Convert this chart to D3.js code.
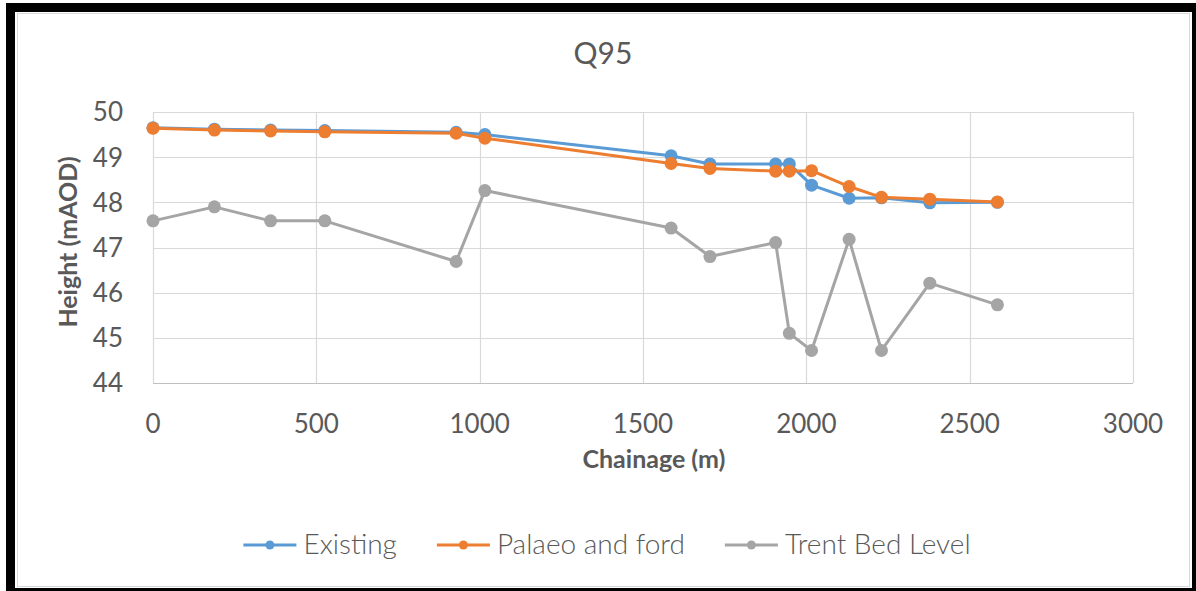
<!DOCTYPE html>
<html lang="en">
<head>
    <meta charset="utf-8" />
    <title>Q95</title>
    <script type="text/javascript" src="https://d3js.org/d3.v7.min.js"></script>
    <style>
        body { margin: 0; background: #fff; }
        svg text { font-family: Lato, "Open Sans", sans-serif; fill: #595959; }
    </style>
</head>
<body>
    <script type="text/javascript">

        var chainage = [0, 188, 360, 526, 928, 1016, 1586, 1705, 1906, 1948, 2016, 2131, 2230, 2378, 2585];
        var existing = [49.65, 49.62, 49.60, 49.59, 49.55, 49.50, 49.03, 48.85, 48.85, 48.85, 48.38, 48.09, 48.10, 47.99, 48.00];
        var palaeo = [49.64, 49.60, 49.58, 49.56, 49.53, 49.42, 48.86, 48.75, 48.69, 48.69, 48.70, 48.35, 48.11, 48.07, 48.01];
        var trent = [47.59, 47.90, 47.59, 47.59, 46.69, 48.26, 47.43, 46.80, 47.11, 45.10, 44.72, 47.18, 44.72, 46.21, 45.73];

        var seriesNames = ["Existing", "Palaeo and ford", "Trent Bed Level"];
        var seriesColors = ["#5B9BD5", "#ED7D31", "#A5A5A5"];
        var xTicks = [0, 500, 1000, 1500, 2000, 2500, 3000];
        var yTicks = [44, 45, 46, 47, 48, 49, 50];

        var w = 1196;
        var h = 591;

        var svg = d3.select("body")
            .append("svg")
            .attr("width", w)
            .attr("height", h);

        // chart area border
        svg.append("rect")
            .attr("x", 17.5).attr("y", 13.5)
            .attr("width", 1172).attr("height", 573)
            .attr("fill", "#fff")
            .attr("stroke", "#d9d9d9");

        // black frame of the screenshot
        svg.append("rect").attr("x", 6).attr("y", 3).attr("width", 9).attr("height", 588).attr("fill", "#000");
        svg.append("rect").attr("x", 6).attr("y", 3).attr("width", 1190).attr("height", 9).attr("fill", "#000");
        svg.append("rect").attr("x", 1192).attr("y", 3).attr("width", 4).attr("height", 588).attr("fill", "#000");
        svg.append("rect").attr("x", 6).attr("y", 588).attr("width", 1190).attr("height", 3).attr("fill", "#000");

        var xScale = d3.scaleLinear()
            .domain([0, 3000])
            .range([153, 1133]);

        var yScale = d3.scaleLinear()
            .domain([44, 50])
            .range([383, 112]);

        // gridlines
        svg.append("g")
            .selectAll("line.h")
            .data(yTicks)
            .enter()
            .append("line")
            .attr("x1", xScale(0)).attr("x2", xScale(3000))
            .attr("y1", function (d) { return Math.round(yScale(d)) + 0.5; })
            .attr("y2", function (d) { return Math.round(yScale(d)) + 0.5; })
            .attr("stroke", function (d) { return d === 44 ? "#bfbfbf" : "#d9d9d9"; })
            .attr("stroke-width", 1.2);

        svg.append("g")
            .selectAll("line.v")
            .data(xTicks)
            .enter()
            .append("line")
            .attr("y1", yScale(44)).attr("y2", yScale(50))
            .attr("x1", function (d) { return Math.round(xScale(d)) + 0.5; })
            .attr("x2", function (d) { return Math.round(xScale(d)) + 0.5; })
            .attr("stroke", "#d9d9d9")
            .attr("stroke-width", 1.2);

        // tick labels
        svg.append("g")
            .selectAll("text")
            .data(yTicks)
            .enter()
            .append("text")
            .text(function (d) { return d; })
            .attr("x", 123)
            .attr("y", function (d) { return yScale(d); })
            .attr("dy", "0.36em")
            .attr("text-anchor", "end")
            .attr("font-size", "26px");

        svg.append("g")
            .selectAll("text")
            .data(xTicks)
            .enter()
            .append("text")
            .text(function (d) { return d; })
            .attr("x", function (d) { return xScale(d); })
            .attr("y", 433)
            .attr("text-anchor", "middle")
            .attr("font-size", "26px");

        // titles
        svg.append("text")
            .text("Q95")
            .attr("x", 603).attr("y", 64)
            .attr("text-anchor", "middle")
            .attr("font-size", "30px");

        svg.append("text")
            .text("Chainage (m)")
            .attr("x", 654).attr("y", 468)
            .attr("text-anchor", "middle")
            .attr("font-size", "25px")
            .attr("font-weight", "bold");

        svg.append("text")
            .text("Height (mAOD)")
            .attr("transform", "translate(77,242) rotate(-90)")
            .attr("text-anchor", "middle")
            .attr("font-size", "25px")
            .attr("font-weight", "bold");

        // series
        var series = [existing, palaeo, trent];
        var line = d3.line()
            .x(function (d, i) { return xScale(chainage[i]); })
            .y(function (d) { return yScale(d); });

        series.forEach(function (vals, s) {
            var g = svg.append("g");
            g.append("path")
                .attr("d", line(vals))
                .attr("fill", "none")
                .attr("stroke", seriesColors[s])
                .attr("stroke-width", 3)
                .attr("stroke-linejoin", "round");
            g.selectAll("circle")
                .data(vals)
                .enter()
                .append("circle")
                .attr("cx", function (d, i) { return xScale(chainage[i]); })
                .attr("cy", function (d) { return yScale(d); })
                .attr("r", 6.5)
                .attr("fill", seriesColors[s]);
        });

        // legend
        var legend = svg.append("g");
        var lx = 0;
        seriesNames.forEach(function (name, s) {
            var item = legend.append("g").attr("transform", "translate(" + lx + ",0)");
            item.append("line")
                .attr("x1", 0).attr("x2", 53)
                .attr("y1", 545).attr("y2", 545)
                .attr("stroke", seriesColors[s])
                .attr("stroke-width", 3);
            item.append("circle")
                .attr("cx", 26.5).attr("cy", 545).attr("r", 4.5)
                .attr("fill", seriesColors[s]);
            var t = item.append("text")
                .text(name)
                .attr("x", 60).attr("y", 554)
                .attr("font-size", "28px")
                .attr("font-weight", 300);
            lx += 60 + t.node().getComputedTextLength() + 40;
        });
        var lw = lx - 40;
        legend.attr("transform", "translate(" + (607 - lw / 2) + ",0)");

    </script>
</body>
</html>
